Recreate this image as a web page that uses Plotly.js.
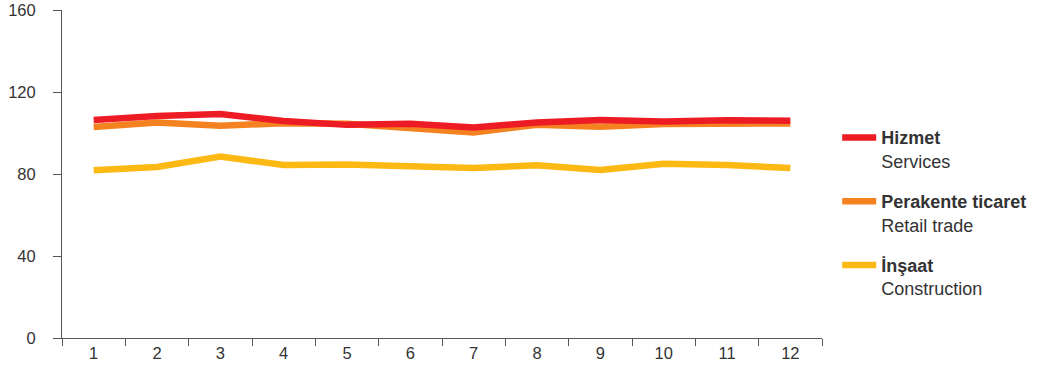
<!DOCTYPE html>
<html>
<head>
<meta charset="utf-8">
<script src="https://cdn.plot.ly/plotly-3.0.1.min.js"></script>
<style>html,body{margin:0;padding:0;background:#fff;}#chart{width:1042px;height:371px;}</style>
</head>
<body>
<div id="chart"></div>
<script>
const months = ['1','2','3','4','5','6','7','8','9','10','11','12'];
const hizmet = [106.4, 108.3, 109.3, 105.9, 104.0, 104.5, 102.7, 105.2, 106.4, 105.6, 106.3, 106.0];
const perakente = [103.0, 105.1, 103.6, 104.8, 104.6, 102.4, 100.3, 104.0, 103.1, 104.4, 104.7, 104.7];
const insaat = [81.8, 83.4, 88.5, 84.4, 84.6, 83.4, 82.9, 84.3, 82.0, 85.0, 84.4, 82.9];
const names = ['<b>Hizmet</b><br>Services', '<b>Perakente ticaret</b><br>Retail trade', '<b>İnşaat</b><br>Construction'];
const colors = ['#ED1C24', '#F58220', '#FDB913'];
const series = [hizmet, perakente, insaat];
const yTicks = [0, 40, 80, 120, 160];

const order = [2, 1, 0];
const traces = order.map(i => ({
  type: 'scatter', mode: 'lines', x: months, y: series[i], name: names[i],
  legendgroup: 'g' + i, legendrank: i + 1,
  line: {color: colors[i], width: 6.5, shape: 'linear'},
  hoverinfo: 'skip'
}));

const tickFont = {family: 'Liberation Sans, Arial, sans-serif', size: 16.5, color: '#333333'};
const legFont = {family: 'Liberation Sans, Arial, sans-serif', size: 18, color: '#333333'};
const layout = {
  width: 1042, height: 371,
  margin: {l: 62, r: 220, t: 10, b: 33},
  paper_bgcolor: '#ffffff', plot_bgcolor: '#ffffff',
  font: tickFont,
  showlegend: true,
  legend: {x: 1.02, xanchor: 'left', y: 0.667, yanchor: 'top', valign: 'top', itemwidth: 34,
           tracegroupgap: 14, font: legFont, bgcolor: 'rgba(0,0,0,0)', traceorder: 'grouped'},
  xaxis: {type: 'category', categoryorder: 'array', categoryarray: months, range: [-0.5, 11.5],
          tickson: 'boundaries', ticks: 'outside', ticklen: 7, tickcolor: '#555',
          showline: true, linecolor: '#555', linewidth: 1, showgrid: false, zeroline: false,
          tickfont: tickFont, fixedrange: true},
  yaxis: {range: [0, 160.05], tickmode: 'array', tickvals: yTicks, ticktext: yTicks.map(String),
          ticks: 'outside', ticklen: 8, tickcolor: '#555',
          showline: true, linecolor: '#555', linewidth: 1, showgrid: false, zeroline: false,
          tickfont: tickFont, ticklabelstandoff: 14, fixedrange: true}
};
function unhideTopLabel() {
  document.querySelectorAll('#chart .ytick text, #chart path.ytick').forEach(el => { el.style.display = ''; });
}
Plotly.newPlot('chart', traces, layout, {staticPlot: true, displayModeBar: false}).then(gd => {
  unhideTopLabel();
  gd.on('plotly_afterplot', unhideTopLabel);
});
</script>
</body>
</html>
